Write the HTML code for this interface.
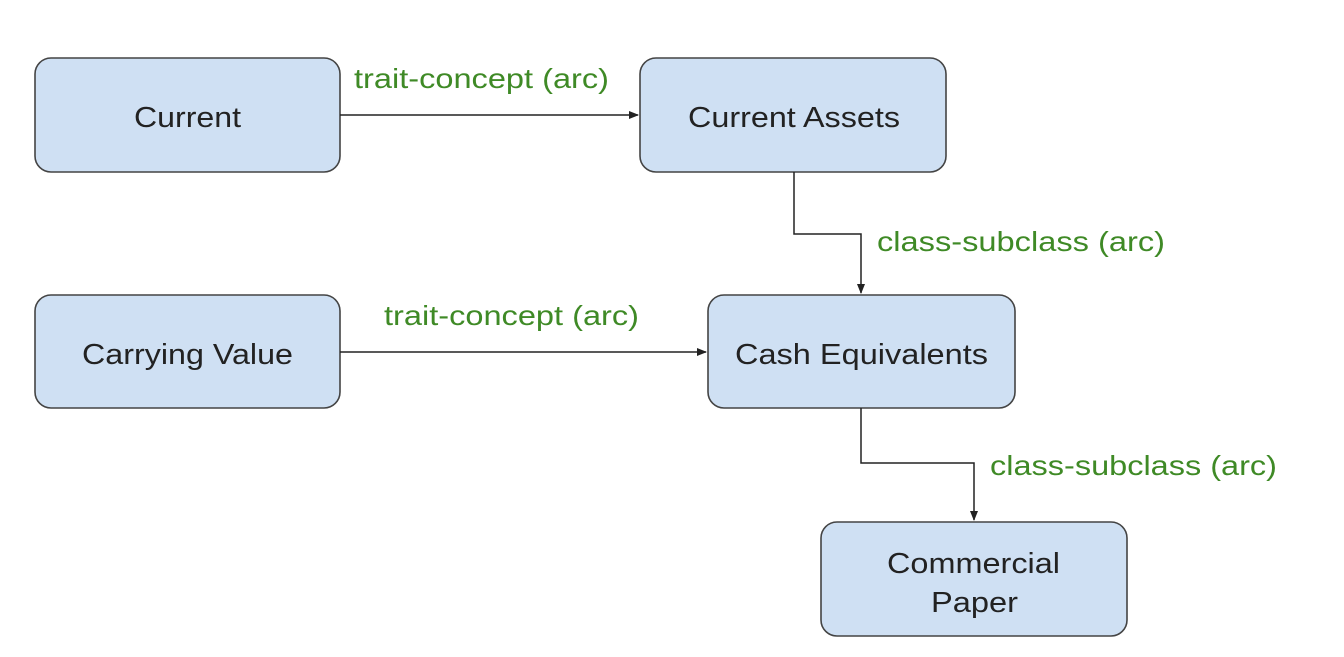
<!DOCTYPE html>
<html><head><style>
body{margin:0;width:1344px;height:652px;background:#fff;overflow:hidden;font-family:"Liberation Sans",sans-serif}
</style></head><body>
<svg width="1344" height="652" xmlns="http://www.w3.org/2000/svg">
<defs><marker id="a" markerWidth="10" markerHeight="10" refX="9" refY="5" orient="auto" markerUnits="userSpaceOnUse"><path d="M0,1 L10,5 L0,9 z" fill="#222"/></marker></defs>
<g fill="#cfe0f3" stroke="#444" stroke-width="1.6">
<rect x="35" y="58" width="305" height="114" rx="16"/>
<rect x="640" y="58" width="306" height="114" rx="16"/>
<rect x="35" y="295" width="305" height="113" rx="16"/>
<rect x="708" y="295" width="307" height="113" rx="16"/>
<rect x="821" y="522" width="306" height="114" rx="16"/>
</g>
<g fill="none" stroke="#222" stroke-width="1.5">
<path d="M340,115 H638" marker-end="url(#a)"/>
<path d="M794,172 V234 H861 V293" marker-end="url(#a)"/>
<path d="M340,352 H706" marker-end="url(#a)"/>
<path d="M861,408 V463 H974 V520" marker-end="url(#a)"/>
</g>
<g font-family="Liberation Sans, sans-serif" font-size="29" fill="#222" lengthAdjust="spacingAndGlyphs">
<text x="134" y="127" textLength="107" lengthAdjust="spacingAndGlyphs">Current</text>
<text x="688" y="127" textLength="212" lengthAdjust="spacingAndGlyphs">Current Assets</text>
<text x="82" y="364" textLength="211" lengthAdjust="spacingAndGlyphs">Carrying Value</text>
<text x="735" y="364" textLength="253" lengthAdjust="spacingAndGlyphs">Cash Equivalents</text>
<text x="887" y="573" textLength="173" lengthAdjust="spacingAndGlyphs">Commercial</text>
<text x="931" y="612" textLength="87" lengthAdjust="spacingAndGlyphs">Paper</text>
</g>
<g font-family="Liberation Sans, sans-serif" font-size="28" fill="#3f8a26">
<text x="354" y="88" textLength="255" lengthAdjust="spacingAndGlyphs">trait-concept (arc)</text>
<text x="877" y="251" textLength="288" lengthAdjust="spacingAndGlyphs">class-subclass (arc)</text>
<text x="384" y="325" textLength="255" lengthAdjust="spacingAndGlyphs">trait-concept (arc)</text>
<text x="990" y="475" textLength="287" lengthAdjust="spacingAndGlyphs">class-subclass (arc)</text>
</g>
</svg>
</body></html>
